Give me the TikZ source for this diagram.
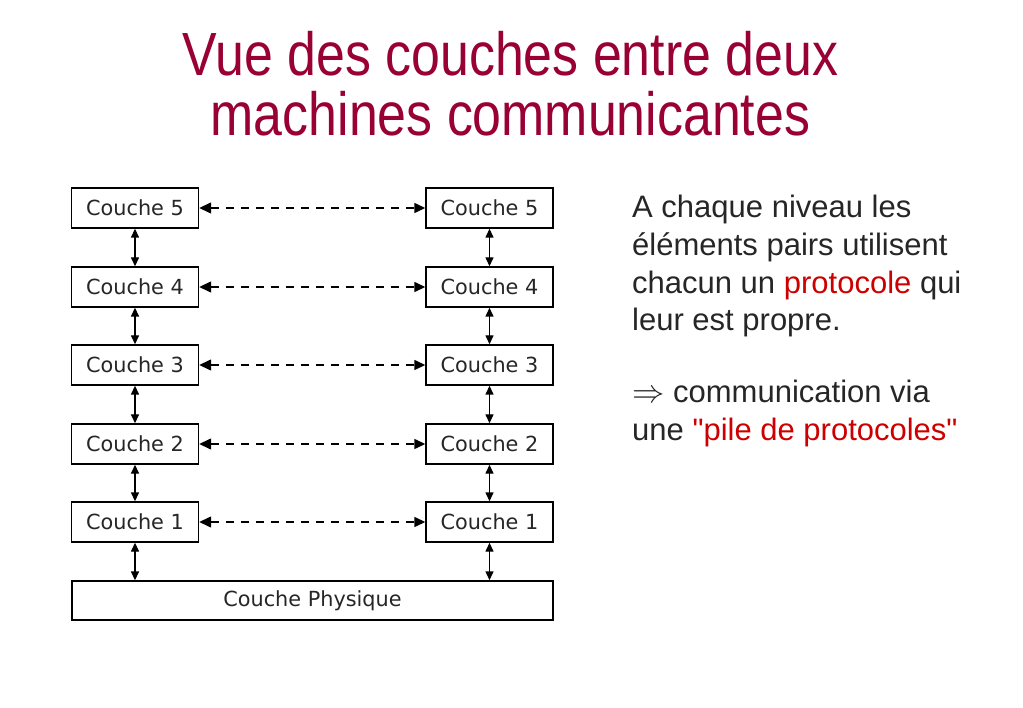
\documentclass[tikz,border=0pt]{standalone}
\usepackage{fontspec}
\usetikzlibrary{arrows.meta}
\newfontfamily\titlefont[FakeStretch=0.85]{Liberation Sans}
\newfontfamily\bodyfont{Liberation Sans}
\newfontfamily\boxfont{DejaVu Sans}
\definecolor{titlered}{HTML}{990033}
\definecolor{protored}{HTML}{CC0000}
\definecolor{ink}{HTML}{262626}

\begin{document}
\begin{tikzpicture}
	[x=1pt,y=-1pt,
	couche/.style={draw,line width=1.4pt,minimum width=127pt,minimum height=40pt,inner sep=0pt,
		font=\boxfont\fontsize{20.8}{24}\selectfont,text=ink},
	titre/.style={anchor=base,inner sep=0pt,text=titlered,font=\titlefont\fontsize{61}{61}\selectfont},
	corps/.style={anchor=base west,inner sep=0pt,align=left,text=ink,font=\bodyfont\fontsize{31}{38}\selectfont},
	vfleche/.style={{Triangle[length=9pt,width=8pt]}-{Triangle[length=9pt,width=8pt]},line width=1.4pt},
	hfleche/.style={{Triangle[length=12pt,width=11pt]}-{Triangle[length=11pt,width=10pt]},line width=1.4pt,dash pattern=on 8pt off 7pt}]
	\useasboundingbox (0,0) rectangle (1023,708);
	\node[titre] (t1) at (510.5,76) {Vue des couches entre deux};
	\node[titre] (t2) at (510.5,136) {machines communicantes};
	
	\foreach \n/\y in {5/208,4/287,3/365,2/444,1/522} {
		\node[couche] (l\n) at (135,\y) {Couche \n};
		\node[couche] (r\n) at (489.5,\y) {Couche \n};
	}
	\node[couche,minimum width=481pt,minimum height=39pt] (phys) at (312.5,600.5) {Couche Physique};
	
	\foreach \from/\to in {5/4,4/3,3/2,2/1} {
		\draw[vfleche] (l\from) -- (l\to);
		\draw[vfleche] (r\from) -- (r\to);
	}
	\draw[vfleche] (l1.south) -- (l1.south |- phys.north);
	\draw[vfleche] (r1.south) -- (r1.south |- phys.north);
	\foreach \n in {5,4,3,2,1}
		\draw[hfleche] (l\n) -- (r\n);
	
	\node[corps] (txt) at (632,441) {A chaque niveau les\\
		éléments pairs utilisent\\
		chacun un \textcolor{protored}{protocole} qui\\
		leur est propre.\\[34pt]
		\scalebox{1.3}{$\Rightarrow$} communication via\\
		une \textcolor{protored}{"pile de protocoles"}};
\end{tikzpicture}
\end{document}
